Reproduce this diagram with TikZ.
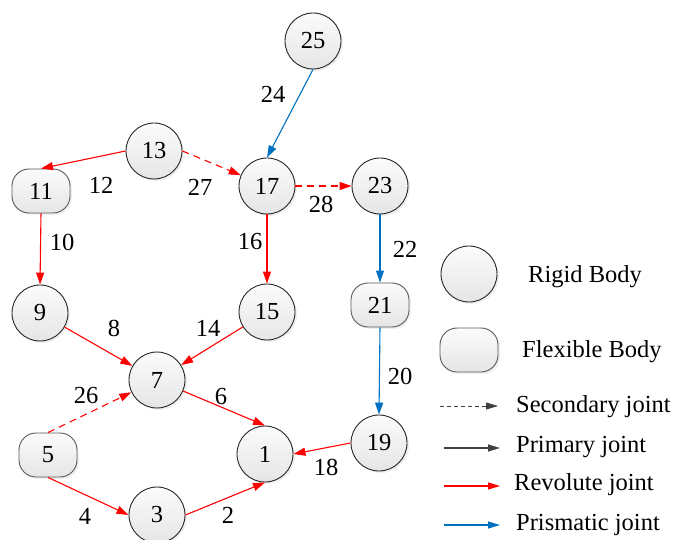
\documentclass[tikz,border=0pt]{standalone}
\usepackage{fontspec}
\setmainfont{Liberation Serif}
\usetikzlibrary{arrows.meta,shadows}
\definecolor{revred}{RGB}{255,0,0}
\definecolor{prisblue}{RGB}{0,112,192}
\definecolor{jointgray}{RGB}{64,64,64}
\tikzset{
  txt/.style={font=\fontsize{24.5}{28}\selectfont, inner sep=0pt},
  body/.style={txt, line width=0.9pt, top color=gray!3, bottom color=gray!20,
    drop shadow={opacity=0.12, shadow xshift=2pt, shadow yshift=-2pt}},
  rigid/.style={body, draw=black!85, circle, minimum size=56pt},
  flexible/.style={body, draw=black!65, rectangle, rounded corners=17pt,
    minimum width=58pt, minimum height=44pt},
  joint/.style={line width=1.1pt, -{Triangle[length=12pt,width=8pt]}},
  revolute/.style={joint, draw=revred},
  prismatic/.style={joint, draw=prisblue},
  secondary/.style={dash pattern=on 7pt off 5pt},
  legendjoint/.style={line width=1.1pt, -{Triangle[length=12pt,width=7pt]}},
}
\begin{document}
\begin{tikzpicture}[x=1pt, y=-1pt]
\useasboundingbox (0,0) rectangle (678,540);

% bodies of the mechanism
\node[rigid]    (n25) at (313,41)  {25};
\node[rigid]    (n13) at (154,151) {13};
\node[flexible] (n11) at (41,191)  {11};
\node[rigid]    (n17) at (267,186) {17};
\node[rigid]    (n23) at (380,186) {23};
\node[rigid]    (n9)  at (40,313)  {9};
\node[rigid]    (n15) at (267,312) {15};
\node[flexible] (n21) at (380,305) {21};
\node[rigid]    (n7)  at (157,380) {7};
\node[flexible] (n5)  at (48,455)  {5};
\node[rigid]    (n1)  at (265,454) {1};
\node[rigid]    (n19) at (379,443) {19};
\node[rigid]    (n3)  at (157,515) {3};

% joints
\draw[prismatic] (n25.south) -- (n17.north);
\draw[revolute] (n13.west) -- (n11.north);
\draw[revolute, secondary] (n13.east) -- (n17);
\draw[revolute, secondary] (n17.east) -- (n23.west);
\draw[revolute] (n11.south) -- (n9.north);
\draw[revolute] (n17.south) -- (n15.north);
\draw[prismatic] (n23.south) -- (n21.north);
\draw[revolute] (n9) -- (n7);
\draw[revolute] (n15) -- (n7);
\draw[revolute, secondary] (n5.north) -- (n7);
\draw[revolute] (n7) -- (n1.north);
\draw[prismatic] (n21.south) -- (n19.north);
\draw[revolute] (n19.west) -- (n1.east);
\draw[revolute] (n5.south) -- (n3.west);
\draw[revolute] (n3.east) -- (n1.south);

% joint numbers
\node[txt] (l24) at (273,94)  {24};
\node[txt] (l12) at (101,185) {12};
\node[txt] (l27) at (200,187) {27};
\node[txt] (l28) at (321,204) {28};
\node[txt] (l10) at (62,242)  {10};
\node[txt] (l16) at (250,242) {16};
\node[txt] (l22) at (405,249) {22};
\node[txt] (l8)  at (114,328) {8};
\node[txt] (l14) at (208,328) {14};
\node[txt] (l26) at (86,396)  {26};
\node[txt] (l6)  at (221,397) {6};
\node[txt] (l20) at (400,376) {20};
\node[txt] (l18) at (326,467) {18};
\node[txt] (l4)  at (85,516)  {4};
\node[txt] (l2)  at (228,515) {2};

% legend
\node[rigid]    (kr) at (469,274) {};
\node[txt, anchor=west] (krt) at (528,277) {Rigid Body};
\node[flexible] (kf) at (469,350) {};
\node[txt, anchor=west] (kft) at (522,352) {Flexible Body};

\coordinate (s1) at (440,406); \coordinate (s2) at (498,406);
\coordinate (p1) at (444,448); \coordinate (p2) at (500,448);
\coordinate (r1) at (444,486); \coordinate (r2) at (500,486);
\coordinate (m1) at (444,525); \coordinate (m2) at (500,525);
\draw[legendjoint, draw=jointgray, line width=0.8pt, dash pattern=on 4pt off 3pt] (s1) -- (s2);
\draw[legendjoint, draw=jointgray] (p1) -- (p2);
\draw[legendjoint, draw=revred] (r1) -- (r2);
\draw[legendjoint, draw=prisblue] (m1) -- (m2);
\node[txt, anchor=west] (kst) at (516,407) {Secondary joint};
\node[txt, anchor=west] (kpt) at (516,447) {Primary joint};
\node[txt, anchor=west] (krj) at (514,485) {Revolute joint};
\node[txt, anchor=west] (kmt) at (516,525) {Prismatic joint};
\end{tikzpicture}
\end{document}
